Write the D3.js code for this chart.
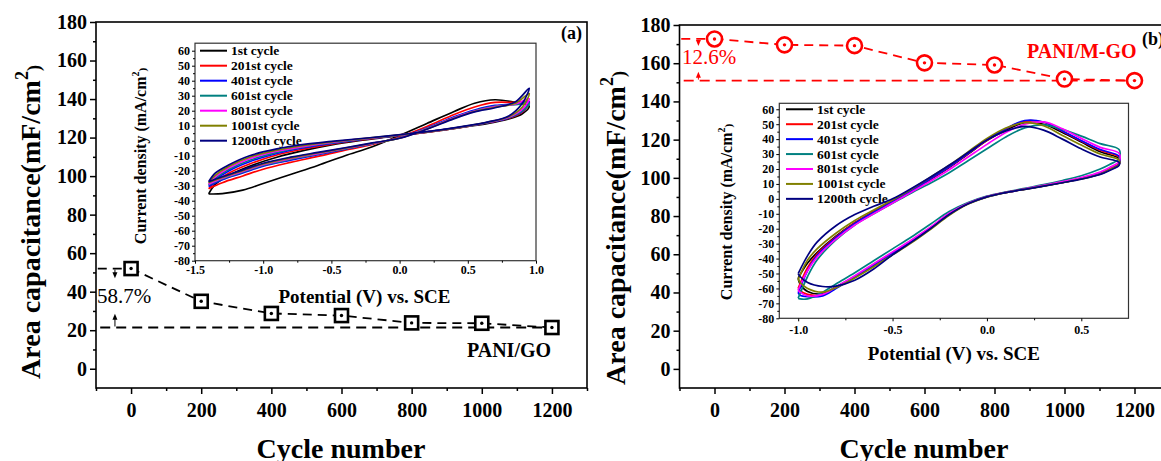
<!DOCTYPE html>
<html>
<head>
<meta charset="utf-8">
<script src="https://cdn.jsdelivr.net/npm/d3@7"></script>
<style>
  html, body { margin: 0; padding: 0; background: #fff; }
  svg { display: block; font-family: "Liberation Serif", "Times New Roman", serif; font-weight: bold; }
</style>
</head>
<body>
<svg id="chart" width="1161" height="461"></svg>
<script>
// ---- Cycling stability: area capacitance vs cycle number ----
const cycles = [0, 200, 400, 600, 800, 1000, 1200];
const capPaniGo = [52, 35, 28.7, 27.6, 23.8, 23.6, 21.4];
const capPaniMgo = [172.7, 169.6, 169.2, 160.2, 159.1, 151.7, 150.9];
const capTicks = [0, 20, 40, 60, 80, 100, 120, 140, 160, 180];
const cycleTicks = [0, 200, 400, 600, 800, 1000, 1200];
const retentionLossGo = "58.7%";
const retentionLossMgo = "12.6%";

// ---- CV insets: one loop per recorded cycle ----
const cycleNames = ["1st cycle", "201st cycle", "401st cycle", "601st cycle", "801st cycle", "1001st cycle", "1200th cycle"];
const cycleColors = ["#000000", "#ff0000", "#0000ff", "#008080", "#ff00ff", "#808000", "#000080"];
const cvTicksY = [-80, -70, -60, -50, -40, -30, -20, -10, 0, 10, 20, 30, 40, 50, 60];
const cvTicksGo = [-1.5, -1.0, -0.5, 0.0, 0.5, 1.0];
const cvTicksMgo = [-1.0, -0.5, 0.0, 0.5];

// PANI/GO loop potentials (V vs SCE): anodic sweep, then cathodic sweep
const potGo = [-1.40, -1.30, -1.15, -1.00, -0.80, -0.60, -0.40, -0.20, 0.00, 0.20, 0.40, 0.55, 0.70, 0.85, 0.95,
               0.90, 0.80, 0.65, 0.50, 0.30, 0.10, -0.10, -0.30, -0.50, -0.70, -0.90, -1.10, -1.25, -1.35];
// current density (mA/cm2) at those potentials
const goCycle1    = [-35.5, -35.3, -33, -28.5, -22.5, -16.5, -10, -4, 3.5, 11.5, 19.5, 25, 27.3, 25.5, 23,
                     18, 14.5, 11.5, 9.5, 6.8, 4.5, 2.3, 0, -2.8, -6.5, -11, -17, -23, -29];
const goCycle201  = [-32, -28, -23.5, -19, -14.5, -10.5, -6.3, -2.5, 2.5, 9.5, 17.5, 22.5, 25.5, 25.5, 26,
                     19, 15, 12, 9.6, 6.9, 4.6, 2.5, 0.3, -2.3, -5.5, -9.5, -15.5, -21.5, -27.5];
const goCycle401  = [-30.5, -26, -21.5, -17, -13, -9.3, -5.6, -2, 2, 8.5, 16, 20.5, 23.5, 24.5, 26,
                     19.5, 15.2, 12, 9.7, 7, 4.7, 2.6, 0.6, -1.8, -4.7, -8.5, -14, -20, -26];
const goCycle601  = [-29.5, -25.5, -21, -16.5, -12.5, -9, -5.4, -1.9, 1.9, 8.2, 15.5, 20, 23, 24, 25,
                     20, 15.5, 12.2, 9.7, 7, 4.8, 2.7, 0.8, -1.5, -4.2, -7.8, -13, -19, -25];
const goCycle801  = [-29, -25, -20.5, -16, -12, -8.6, -5.2, -1.8, 1.8, 8, 15.2, 19.7, 22.7, 24.5, 28,
                     21, 15.7, 12.3, 9.8, 7.1, 4.9, 2.8, 1, -1.2, -3.8, -7, -12, -18, -24];
const goCycle1001 = [-28, -24.5, -20, -15.5, -11.5, -8.2, -5, -1.7, 1.7, 7.8, 15, 19.5, 22.3, 25, 31.5,
                     22.5, 16, 12.4, 9.9, 7.1, 4.9, 2.9, 1.1, -0.8, -3.2, -6.3, -11, -17, -23];
const goCycle1200 = [-27.3, -24, -19.5, -15, -11, -7.8, -4.7, -1.5, 1.6, 7.6, 14.7, 19.2, 22, 26, 35,
                     25, 16.5, 12.5, 10, 7.2, 5, 3, 1.3, -0.5, -2.5, -5.5, -10, -16, -21.5];

// PANI/M-GO loop potentials (V vs SCE): anodic sweep, then cathodic sweep
const potMgo = [-1.00, -0.95, -0.90, -0.80, -0.70, -0.60, -0.50, -0.40, -0.30, -0.20, -0.10, 0.00, 0.10, 0.20, 0.30, 0.40, 0.50, 0.60, 0.70,
                0.70, 0.65, 0.60, 0.50, 0.40, 0.30, 0.20, 0.10, 0.00, -0.10, -0.20, -0.30, -0.40, -0.50, -0.60, -0.70, -0.80, -0.87, -0.95, -0.99];
const mgoCycle1    = [-53, -43, -36, -25, -16, -8.5, -1.5, 5.5, 13, 21, 30, 39, 46, 51, 50, 44.5, 38, 31.5, 27,
                      23.5, 20, 17, 13.5, 11, 8.7, 6.5, 4.3, 1.5, -3, -10, -19.5, -28, -36, -44, -52, -59, -63.5, -62, -57];
const mgoCycle201  = [-60, -46, -37, -25.5, -16, -8.7, -1.7, 5.5, 13.3, 21.3, 30.3, 39.3, 46.8, 52, 51.3, 45.3, 38.7, 32.5, 28,
                      23.3, 19.8, 16.8, 13.5, 11, 8.7, 6.5, 4.3, 1.4, -3.2, -10.3, -19.8, -28.3, -36.3, -44.3, -52.3, -59.5, -64.3, -64, -61.5];
const mgoCycle401  = [-63, -48, -38, -26, -16.5, -9, -2, 5.5, 13.5, 21.5, 30.5, 39.5, 47, 52.5, 51.5, 45.5, 39, 33, 28.5,
                      23, 19.5, 16.7, 13.5, 11, 8.7, 6.5, 4.3, 1.3, -3.3, -10.5, -20, -28.5, -36.5, -44.5, -52.5, -60, -65, -65.5, -64.5];
const mgoCycle601  = [-66.5, -52, -41, -27.5, -17.5, -10, -3, 4, 10.5, 17.5, 25.5, 33.5, 41.5, 47.5, 49.5, 46.5, 42, 37, 33,
                      27, 23, 20, 15.5, 12.3, 9.5, 7, 4.6, 1.8, -2.5, -8.5, -17, -25.5, -33.5, -41.5, -49.5, -57, -62.5, -67, -67];
const mgoCycle801  = [-61, -48, -39, -27, -17.5, -10, -2.8, 4.5, 11.8, 19.5, 28, 36.5, 44.5, 50, 51.5, 47, 40.5, 34.5, 30.5,
                      25, 21, 18, 14.3, 11.5, 9, 6.7, 4.4, 1.5, -3, -9.7, -19, -27.5, -35.5, -43.5, -51.5, -59, -64, -65, -62.5];
const mgoCycle1001 = [-54, -41, -33.5, -23, -14.5, -7.5, -0.8, 6.5, 14.5, 22.5, 31.5, 40.5, 47.5, 51, 49, 42.5, 36, 30, 26,
                      23, 19.5, 16.5, 13.3, 10.8, 8.5, 6.4, 4.2, 1.2, -3.5, -11, -20.5, -29.5, -37.5, -45.5, -53, -59.5, -62.5, -60, -56];
const mgoCycle1200 = [-50, -38, -29, -18, -10.5, -5, 0, 7, 14.5, 22.5, 31, 39.5, 45.5, 48.5, 46, 40, 33.5, 28, 24.5,
                      22.5, 19, 16.3, 13.2, 10.8, 8.5, 6.4, 4.2, 1.3, -3.3, -10.5, -20, -29, -37.5, -47, -54.5, -58.5, -58.7, -56, -52];

const goLoops = [goCycle1, goCycle201, goCycle401, goCycle601, goCycle801, goCycle1001, goCycle1200];
const mgoLoops = [mgoCycle1, mgoCycle201, mgoCycle401, mgoCycle601, mgoCycle801, mgoCycle1001, mgoCycle1200];

const svg = d3.select("#chart");
const fmtPot = d => d.toFixed(1);

function styleAxis(g, fontSize, strokeW) {
  g.select(".domain").remove();
  g.selectAll(".tick line").attr("stroke", "#000").attr("stroke-width", strokeW);
  g.selectAll(".tick text").attr("fill", "#000").attr("font-size", fontSize)
    .attr("font-family", "Liberation Serif, Times New Roman, serif").attr("font-weight", "bold");
}

// Inset cyclic voltammogram
function drawInset(cfg) {
  const g = svg.append("g");
  const x = d3.scaleLinear().domain(cfg.xDomain).range(cfg.xRange);
  const y = d3.scaleLinear().domain([-80, cfg.yTop]).range(cfg.yRange);

  g.append("rect")
    .attr("x", cfg.xRange[0]).attr("y", cfg.yRange[1])
    .attr("width", cfg.xRange[1] - cfg.xRange[0]).attr("height", cfg.yRange[0] - cfg.yRange[1])
    .attr("fill", "#fff").attr("stroke", "#333").attr("stroke-width", 1.2);

  const yAx = g.append("g").attr("transform", `translate(${cfg.xRange[0]},0)`)
    .call(d3.axisLeft(y).tickValues(cvTicksY).tickSize(3).tickPadding(2).tickFormat(d => String(d)));
  styleAxis(yAx, 12, 1);
  const yMin = g.append("g").attr("transform", `translate(${cfg.xRange[0]},0)`)
    .call(d3.axisLeft(y).tickValues(d3.range(-75, 60, 10)).tickSize(2).tickFormat(""));
  styleAxis(yMin, 12, 1);

  const xAx = g.append("g").attr("transform", `translate(0,${cfg.yRange[0]})`)
    .call(d3.axisBottom(x).tickValues(cfg.xTicks).tickSize(3).tickPadding(cfg.xPad).tickFormat(fmtPot));
  styleAxis(xAx, 12, 1);
  const xMin = g.append("g").attr("transform", `translate(0,${cfg.yRange[0]})`)
    .call(d3.axisBottom(x).tickValues(cfg.xTicks.map(v => v + 0.25).filter(v => v < cfg.xDomain[1])).tickSize(2).tickFormat(""));
  styleAxis(xMin, 12, 1);

  // axis titles
  g.append("text")
    .attr("x", (cfg.xRange[0] + cfg.xRange[1]) / 2 + cfg.xTitleShift)
    .attr("y", cfg.xTitleY)
    .attr("text-anchor", "middle").attr("font-size", 19)
    .text("Potential (V) vs. SCE");
  const yt = g.append("text")
    .attr("transform", `translate(${cfg.yTitleX},${cfg.yTitleY}) rotate(-90)`)
    .attr("text-anchor", "middle").attr("font-size", 16);
  yt.append("tspan").text("Current density (mA/cm");
  yt.append("tspan").attr("font-size", 10).attr("dy", -7).text("2");
  yt.append("tspan").attr("font-size", 11).attr("dy", 7).text(")");

  // legend
  const lg = g.append("g");
  cycleNames.forEach((name, i) => {
    const cy = y(60 - 10 * i);
    lg.append("line").attr("x1", cfg.legendX).attr("x2", cfg.legendX + 27)
      .attr("y1", cy).attr("y2", cy).attr("stroke", cycleColors[i]).attr("stroke-width", 2);
    lg.append("text").attr("x", cfg.legendX + 31).attr("y", cy + 4.5)
      .attr("font-size", 13.5).text(name);
  });

  // loops
  const line = d3.line().x(d => x(d[0])).y(d => y(d[1])).curve(d3.curveCatmullRom.alpha(0.5));
  cfg.loops.forEach((cur, i) => {
    const pts = cfg.pot.map((v, k) => [v, cur[k]]);
    pts.push(pts[0]);
    g.append("path").attr("d", line(pts)).attr("fill", "none")
      .attr("stroke", cycleColors[i]).attr("stroke-width", 1.7).attr("stroke-linejoin", "round");
  });
}

// Main capacitance panel
function drawPanel(cfg) {
  const g = svg.append("g");
  const x = d3.scaleLinear().domain([-100, 1300]).range(cfg.xRange);
  const y = d3.scaleLinear().domain([-10, 180]).range(cfg.yRange);

  g.append("rect")
    .attr("x", cfg.xRange[0]).attr("y", cfg.yRange[1])
    .attr("width", cfg.xRange[1] - cfg.xRange[0]).attr("height", cfg.yRange[0] - cfg.yRange[1])
    .attr("fill", "none").attr("stroke", "#000").attr("stroke-width", 1.6);

  const yAx = g.append("g").attr("transform", `translate(${cfg.xRange[0]},0)`)
    .call(d3.axisLeft(y).tickValues(capTicks).tickSize(6).tickPadding(3).tickFormat(d => String(d)));
  styleAxis(yAx, 20, 1.5);
  const yMin = g.append("g").attr("transform", `translate(${cfg.xRange[0]},0)`)
    .call(d3.axisLeft(y).tickValues(d3.range(10, 180, 20)).tickSize(3).tickFormat(""));
  styleAxis(yMin, 20, 1.5);

  const xAx = g.append("g").attr("transform", `translate(0,${cfg.yRange[0]})`)
    .call(d3.axisBottom(x).tickValues(cycleTicks).tickSize(6).tickPadding(9).tickFormat(d => String(d)));
  styleAxis(xAx, 20, 1.5);
  const xMin = g.append("g").attr("transform", `translate(0,${cfg.yRange[0]})`)
    .call(d3.axisBottom(x).tickValues(d3.range(-100, 1301, 200)).tickSize(3).tickFormat(""));
  styleAxis(xMin, 20, 1.5);

  g.append("text").attr("x", cfg.xTitleX).attr("y", 458)
    .attr("text-anchor", "middle").attr("font-size", 28).text("Cycle number");
  const yt = g.append("text")
    .attr("transform", `translate(${cfg.yTitleX},${cfg.yTitleY}) rotate(-90)`)
    .attr("text-anchor", "middle").attr("font-size", 28);
  yt.append("tspan").text("Area capacitance(mF/cm");
  yt.append("tspan").attr("font-size", 18).attr("dy", -12).text("2");
  yt.append("tspan").attr("font-size", 18).attr("dy", 12).text(")");

  return { g, x, y };
}

function drawSeries(p, cfg) {
  const { g, x, y } = p;
  const vals = cfg.values;
  const first = vals[0], last = vals[vals.length - 1];
  const col = cfg.color;

  // reference levels: initial and final capacitance
  g.append("line").attr("x1", x(-95)).attr("x2", x(0)).attr("y1", y(first)).attr("y2", y(first))
    .attr("stroke", col).attr("stroke-width", 1.8).attr("stroke-dasharray", "9,6");
  g.append("line").attr("x1", x(-88)).attr("x2", x(1200)).attr("y1", y(last)).attr("y2", y(last))
    .attr("stroke", col).attr("stroke-width", 1.8).attr("stroke-dasharray", "10,6");

  // retention arrows
  const ax = x(-46);
  const arrow = (yFrom, yTo) => {
    const dir = yTo > yFrom ? 1 : -1;
    g.append("line").attr("x1", ax).attr("x2", ax).attr("y1", yFrom).attr("y2", yTo - dir * 5)
      .attr("stroke", col).attr("stroke-width", 1);
    g.append("path")
      .attr("d", `M${ax - 2.5},${yTo - dir * 6}L${ax + 2.5},${yTo - dir * 6}L${ax},${yTo}Z`)
      .attr("fill", col);
  };
  arrow(y(first) + 1, y(cfg.arrowDownTo));
  arrow(y(last) - 1, y(cfg.arrowUpTo));

  g.append("text").attr("x", cfg.pctX).attr("y", cfg.pctY)
    .attr("font-size", 21).attr("font-weight", "normal").attr("fill", col).text(cfg.pct);

  // dashed connecting line
  const pts = cycles.map((c, i) => [c, vals[i]]);
  g.append("path").attr("d", d3.line().x(d => x(d[0])).y(d => y(d[1]))(pts))
    .attr("fill", "none").attr("stroke", col).attr("stroke-width", 1.8).attr("stroke-dasharray", "9,6");

  // markers
  pts.forEach(d => {
    if (cfg.marker === "square") {
      g.append("rect").attr("x", x(d[0]) - 6.5).attr("y", y(d[1]) - 6.5).attr("width", 13).attr("height", 13)
        .attr("fill", "#fff").attr("stroke", col).attr("stroke-width", 2.6);
    } else {
      g.append("circle").attr("cx", x(d[0])).attr("cy", y(d[1])).attr("r", 7.5)
        .attr("fill", "#fff").attr("stroke", col).attr("stroke-width", 2.6);
    }
    g.append("circle").attr("cx", x(d[0])).attr("cy", y(d[1])).attr("r", 1.7).attr("fill", col);
  });

  g.append("text").attr("x", cfg.nameX).attr("y", cfg.nameY)
    .attr("font-size", 20).attr("fill", col).text(cfg.name);
  g.append("text").attr("x", cfg.tagX).attr("y", cfg.tagY)
    .attr("font-size", 18).attr("fill", "#000").text(cfg.tag);
}

// ---- Panel (a): PANI/GO ----
const pa = drawPanel({ xRange: [96, 587], yRange: [388, 22], xTitleX: 341, yTitleX: 40, yTitleY: 222 });
drawInset({
  xDomain: [-1.5, 1.0], xRange: [195, 536], yTop: 65, yRange: [260.7, 43.2],
  xTicks: cvTicksGo, xPad: 2, xTitleShift: -1, xTitleY: 303, yTitleX: 146, yTitleY: 156,
  legendX: 200, pot: potGo, loops: goLoops
});
drawSeries(pa, {
  values: capPaniGo, color: "#000", marker: "square",
  arrowDownTo: 47, arrowUpTo: 28.5, pct: retentionLossGo, pctX: 97, pctY: 303,
  name: "PANI/GO", nameX: 467, nameY: 357, tag: "(a)", tagX: 561, tagY: 39
});

// ---- Panel (b): PANI/M-GO ----
const pb = drawPanel({ xRange: [679.5, 1169.5], yRange: [388, 25], xTitleX: 924, yTitleX: 625, yTitleY: 228 });
drawInset({
  xDomain: [-1.1, 0.75], xRange: [779.3, 1128.5], yTop: 64, yRange: [318.3, 103.3],
  xTicks: cvTicksMgo, xPad: 4, xTitleShift: 0, xTitleY: 360, yTitleX: 732, yTitleY: 212,
  legendX: 786, pot: potMgo, loops: mgoLoops
});
drawSeries(pb, {
  values: capPaniMgo, color: "#ff0000", marker: "circle",
  arrowDownTo: 169, arrowUpTo: 155.5, pct: retentionLossMgo, pctX: 682, pctY: 64,
  name: "PANI/M-GO", nameX: 1027, nameY: 58, tag: "(b)", tagX: 1142, tagY: 45
});
</script>
</body>
</html>
